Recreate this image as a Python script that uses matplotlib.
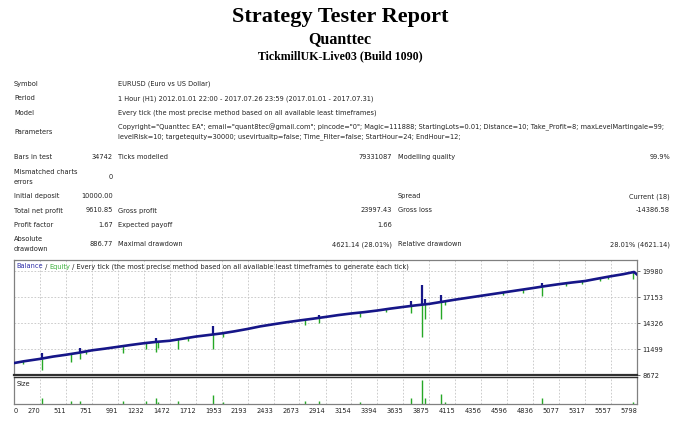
import matplotlib.pyplot as plt

# ---- report text ----
title = "Strategy Tester Report"
expert = "Quanttec"
server = "TickmillUK-Live03 (Build 1090)"

info_labels = ["Symbol", "Period", "Model"]
info_values = ["EURUSD (Euro vs US Dollar)",
               "1 Hour (H1) 2012.01.01 22:00 - 2017.07.26 23:59 (2017.01.01 - 2017.07.31)",
               "Every tick (the most precise method based on all available least timeframes)"]
param_lines = ['Copyright="Quanttec EA"; email="quant8tec@gmail.com"; pincode="0"; Magic=111888; '
               'StartingLots=0.01; Distance=10; Take_Profit=8; maxLevelMartingale=99;',
               'levelRisk=10; targetequity=30000; usevirtualtp=false; Time_Filter=false; '
               'StartHour=24; EndHour=12;']

stats = [
    ("Bars in test", "34742", "Ticks modelled", "79331087", "Modelling quality", "99.9%"),
    ("Mismatched charts\nerrors", "0", "", "", "", ""),
    ("Initial deposit", "10000.00", "", "", "Spread", "Current (18)"),
    ("Total net profit", "9610.85", "Gross profit", "23997.43", "Gross loss", "-14386.58"),
    ("Profit factor", "1.67", "Expected payoff", "1.66", "", ""),
    ("Absolute\ndrawdown", "886.77", "Maximal drawdown", "4621.14 (28.01%)",
     "Relative drawdown", "28.01% (4621.14)"),
]

# ---- chart data (trade number vs money) ----
trade_ticks = [270, 511, 751, 991, 1232, 1472, 1712, 1953, 2193, 2433, 2673, 2914,
               3154, 3394, 3635, 3875, 4115, 4356, 4596, 4836, 5077, 5317, 5557, 5798]
money_ticks = [8672, 11499, 14326, 17153, 19980]

bal_trade = [30, 120, 270, 390, 511, 630, 751, 870, 991, 1110, 1232, 1350, 1472, 1590,
             1712, 1830, 1953, 2070, 2193, 2310, 2433, 2550, 2673, 2790, 2914, 3030,
             3154, 3270, 3394, 3510, 3635, 3750, 3875, 3990, 4115, 4230, 4356, 4470,
             4596, 4710, 4836, 4950, 5077, 5190, 5317, 5430, 5557, 5670, 5770, 5798]
balance = [10000, 10190, 10450, 10700, 10900, 11120, 11380, 11560, 11760, 11960, 12150,
           12300, 12420, 12640, 12870, 13040, 13220, 13440, 13700, 13980, 14210, 14420,
           14620, 14800, 15000, 15200, 15380, 15520, 15700, 15900, 16090, 16260, 16420,
           16640, 16880, 17080, 17300, 17500, 17720, 17920, 18140, 18350, 18560, 18730,
           18900, 19150, 19420, 19640, 19880, 19611]

dip_trade = [115, 292, 560, 638, 700, 1039, 1255, 1342, 1365, 1545, 1638, 1875, 1968,
             2724, 2856, 3234, 3470, 3702, 3805, 3835, 3980, 4020, 4560, 4745, 4915,
             5140, 5290, 5460, 5525, 5758]
dip_top = [10180, 10490, 10990, 11130, 11270, 11840, 12180, 12290, 12310, 12560, 12730,
           13110, 13250, 14700, 14910, 15480, 15830, 16190, 16330, 16370, 16620, 16700,
           17660, 17980, 18290, 18650, 18860, 19220, 19360, 19870]
dip_low = [9950, 9250, 10100, 10480, 10950, 11070, 11530, 11150, 11650, 11540, 12350,
           11540, 12790, 14140, 14300, 14950, 15550, 15420, 12840, 14800, 14770, 16350,
           17380, 17650, 17300, 18400, 18600, 18950, 19100, 19140]

spike_trade = [292, 638, 1255, 1342, 1875, 2856, 3702, 3805, 3835, 3980, 4915, 5758]
spike_base = [10490, 11130, 12180, 12290, 13110, 14910, 16190, 16330, 16370, 16620, 18290, 19870]
spike_top = [11050, 11650, 12300, 12700, 13980, 15170, 16750, 18470, 17000, 17420, 18650, 19980]

size_trade = [292, 560, 638, 1039, 1255, 1342, 1365, 1545, 1875, 1968, 2724, 2856, 3234,
              3702, 3805, 3835, 3980, 4020, 4915, 5758]
size_lots = [0.32, 0.16, 0.16, 0.16, 0.16, 0.32, 0.08, 0.16, 0.48, 0.08, 0.16, 0.16, 0.08,
             0.32, 1.28, 0.32, 0.52, 0.08, 0.32, 0.08]

W, H = 680, 426
FS = 4.75
TXT = "#222222"
BLUE = "#161688"
GREEN = "#26a826"


def fx(x):
    return x / W


def fy(y):
    return 1 - y / H


def put(x, y, s, ha="left", **kw):
    # multi-line labels are drawn line by line
    lines = s.split("\n")
    step = 10
    y0 = y - step * (len(lines) - 1) / 2
    for i, ln in enumerate(lines):
        fig.text(fx(x), fy(y0 + i * step), ln, ha=ha, va="center", fontsize=FS,
                 color=TXT, family="DejaVu Sans", **kw)


fig = plt.figure(figsize=(6.8, 4.26), dpi=100)

fig.text(fx(340), fy(17), title, ha="center", va="center", family="Liberation Serif",
         weight="bold", fontsize=16)
fig.text(fx(340), fy(39), expert, ha="center", va="center", family="Liberation Serif",
         weight="bold", fontsize=11.5)
fig.text(fx(340), fy(56), server, ha="center", va="center", family="Liberation Serif",
         weight="bold", fontsize=8.6)

for i, (lab, val) in enumerate(zip(info_labels, info_values)):
    put(14, 84 + i * 14.3, lab)
    put(118, 84 + i * 14.3, val)
put(14, 132, "Parameters")
put(118, 132, "\n".join(param_lines))

stat_y = [157, 177, 196.5, 210.5, 225, 244.5]
for y, row in zip(stat_y, stats):
    put(14, y, row[0])
    put(113, y, row[1], ha="right")
    put(118, y, row[2])
    put(392, y, row[3], ha="right")
    put(398, y, row[4])
    put(670, y, row[5], ha="right")

# ---- chart panels ----
ax = fig.add_axes([fx(14), fy(375.3), 623 / W, 115.3 / H])
ax2 = fig.add_axes([fx(14), fy(404), 623 / W, 27 / H])

ax.vlines(dip_trade, dip_low, dip_top, color=GREEN, lw=1.0, zorder=2)
ax.plot(bal_trade, balance, color=BLUE, lw=1.9, zorder=3)
ax.vlines(spike_trade, spike_base, spike_top, color=BLUE, lw=1.6, zorder=3)
ax.set_xlim(30, 5798)
ax.set_ylim(8672, 21180)
ax.set_xticks(trade_ticks)
ax.set_xticklabels([])
ax.set_yticks(money_ticks)
ax.set_yticklabels([str(v) for v in money_ticks])
ax.yaxis.tick_right()
ax.tick_params(axis="x", length=0)
ax.tick_params(axis="y", length=2.5, width=0.6, labelsize=FS, pad=1.5, colors="#505050",
               labelcolor=TXT)
ax.grid(True, color="#c4c4c4", ls=(0, (2, 2)), lw=0.6)
for s in ax.spines.values():
    s.set_color("#808080")
    s.set_linewidth(0.9)
ax.spines["bottom"].set_color("#303030")
ax.spines["bottom"].set_linewidth(1.6)

ax2.vlines(size_trade, 0, size_lots, color=GREEN, lw=1.0, zorder=2)
ax2.set_xlim(30, 5798)
ax2.set_ylim(0, 1.42)
ax2.set_yticks([])
ax2.set_xticks([30] + trade_ticks)
ax2.set_xticklabels(["0"] + [str(t) for t in trade_ticks])
ax2.tick_params(axis="x", length=0, labelsize=FS, pad=3, labelcolor=TXT)
for i, lbl in enumerate(ax2.get_xticklabels()):
    lbl.set_ha("left" if i == 0 else "right")
ax2.grid(True, axis="x", color="#c4c4c4", ls=(0, (2, 2)), lw=0.6)
for s in ax2.spines.values():
    s.set_color("#808080")
    s.set_linewidth(0.9)
ax2.spines["top"].set_color("#303030")
ax2.spines["top"].set_linewidth(1.0)
ax2.text(0.004, 0.75, "Size", transform=ax2.transAxes, fontsize=FS, color=TXT,
         va="center")

# legend line on top of the main panel
base_y = fy(268.5)
t1 = fig.text(fx(16.5), base_y, "Balance", color="#3030a8", fontsize=FS, va="baseline")
parts = [(" / ", TXT), ("Equity", "#3cb03c"),
         (" / Every tick (the most precise method based on all available least "
          "timeframes to generate each tick)", TXT)]
prev = t1
for s, c in parts:
    prev = ax.annotate(s, xy=(1, base_y), xycoords=(prev, "figure fraction"),
                       va="baseline", ha="left", fontsize=FS, color=c,
                       annotation_clip=False)

fig.savefig("out.png", dpi=100)
